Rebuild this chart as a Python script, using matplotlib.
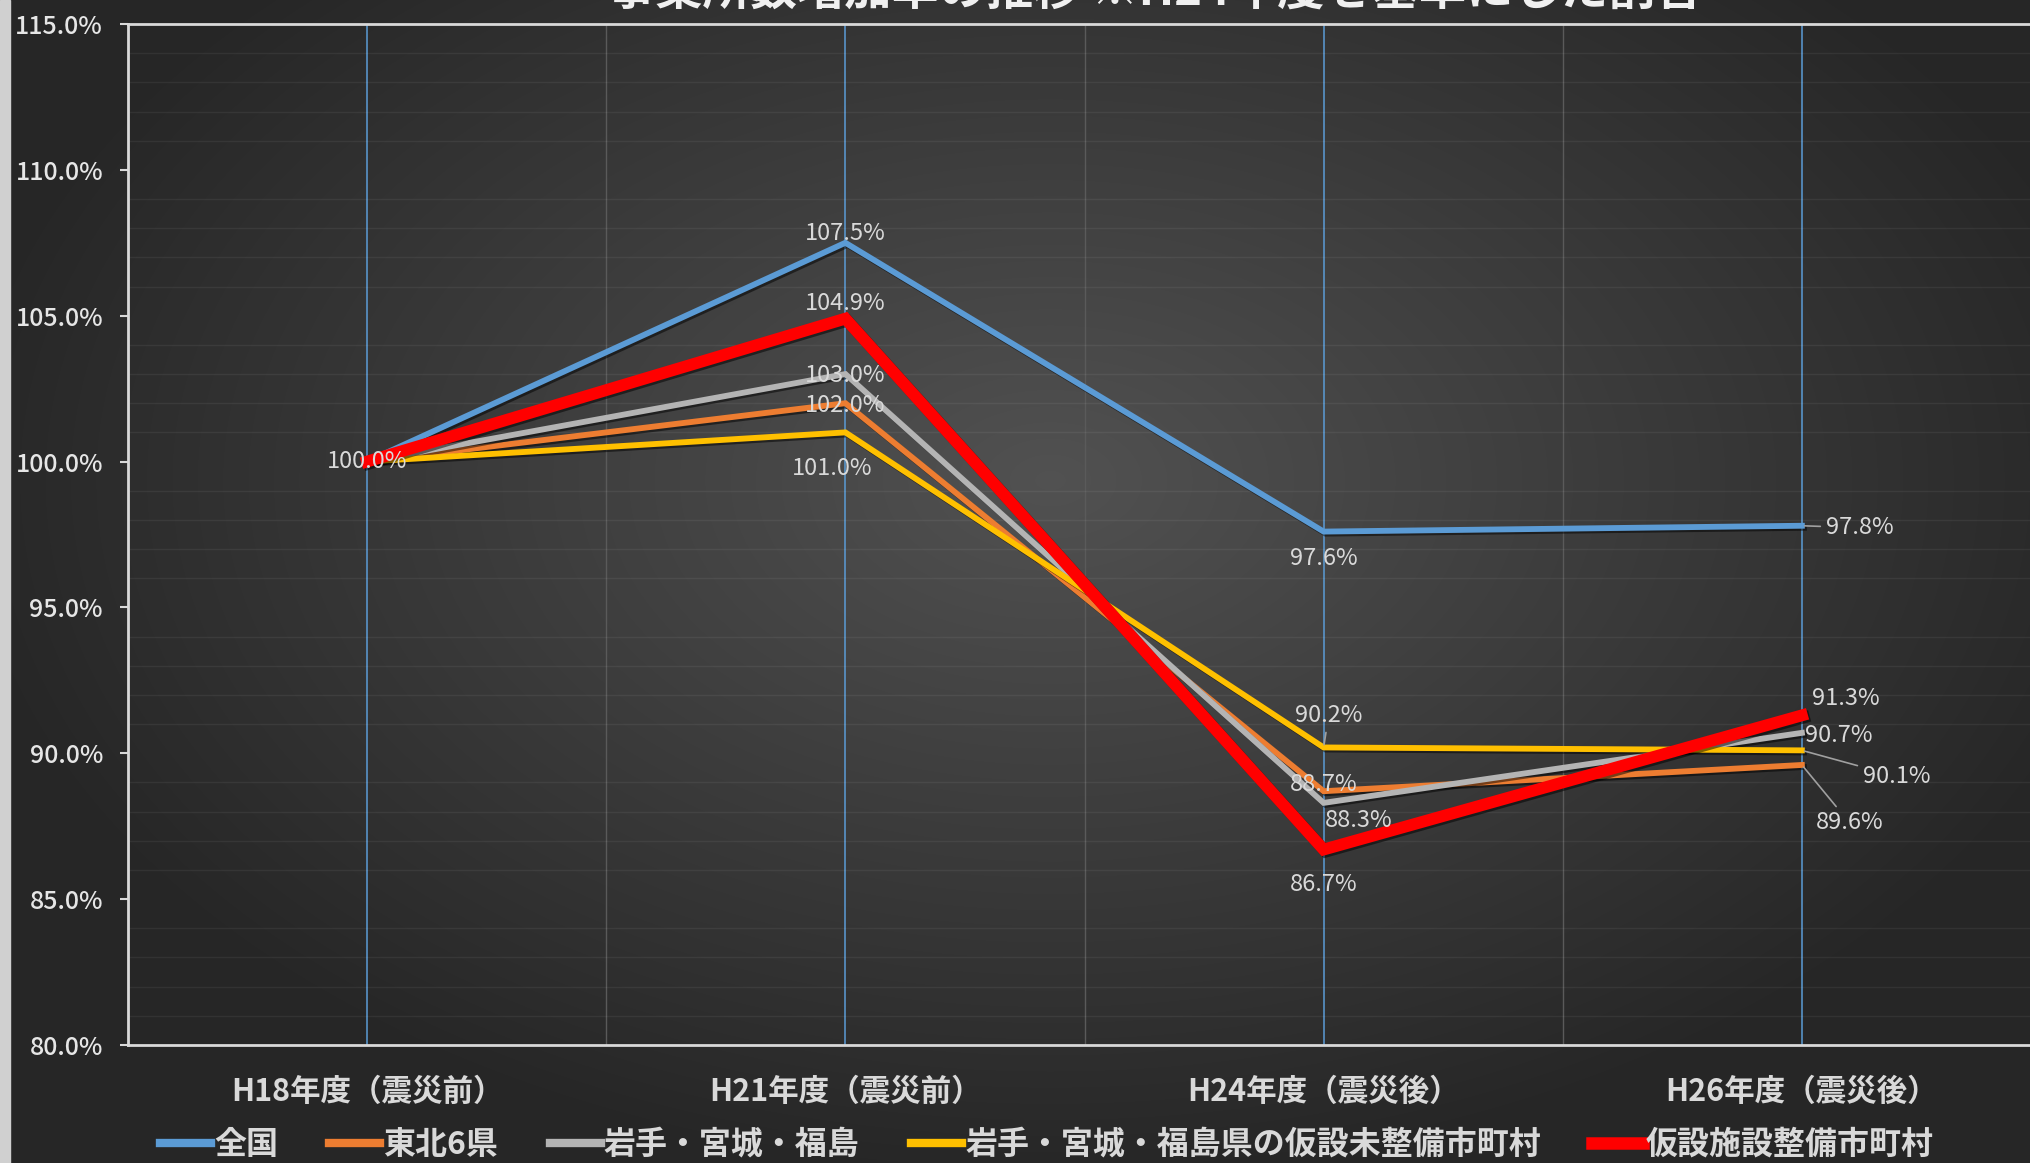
import numpy as np
import matplotlib
matplotlib.use("Agg")
import matplotlib.pyplot as plt
import matplotlib.patheffects as pe
from matplotlib.ticker import MultipleLocator, FuncFormatter

plt.rcParams['font.family'] = ['Noto Sans CJK JP', 'DejaVu Sans']

# 年度ごとの事業所数増加率 (%)
categories = ["H18年度（震災前）", "H21年度（震災前）", "H24年度（震災後）", "H26年度（震災後）"]
zenkoku = [100.0, 107.5, 97.6, 97.8]
tohoku6 = [100.0, 102.0, 88.7, 89.6]
iwate_miyagi_fukushima = [100.0, 103.0, 88.3, 90.7]
kasetsu_miseibi = [100.0, 101.0, 90.2, 90.1]
kasetsu_seibi = [100.0, 104.9, 86.7, 91.3]

series_names = ["全国", "東北6県", "岩手・宮城・福島",
                "岩手・宮城・福島県の仮設未整備市町村", "仮設施設整備市町村"]
series_values = [zenkoku, tohoku6, iwate_miyagi_fukushima, kasetsu_miseibi, kasetsu_seibi]
colors = ["#5b9bd5", "#ed7d31", "#b4b4b4", "#ffc000", "#ff0000"]
widths = [4.2, 4.2, 4.2, 4.2, 8.5]

W, H = 2031, 1163
fig = plt.figure(figsize=(W / 100, H / 100), dpi=100)

# dark radial background
bg = fig.add_axes([0, 0, 1, 1], zorder=-10)
yy, xx = np.mgrid[0:H, 0:W]
r = np.sqrt(((xx - 1050) / 1100.0) ** 2 + ((yy - 480) / 700.0) ** 2)
shade = np.clip(0.32 - 0.17 * r, 0.15, 0.32)
bg.imshow(np.dstack([shade] * 3), extent=[0, W, H, 0], aspect='auto')
bg.add_patch(plt.Rectangle((0, 0), 10, H, color="#d0d0d0"))
bg.set_xlim(0, W)
bg.set_ylim(H, 0)
bg.axis('off')

left, right, top, bottom = 128, 2041, 24, 1045
ax = fig.add_axes([left / W, 1 - bottom / H, (right - left) / W, (bottom - top) / H])
ax.patch.set_alpha(0)

x = np.arange(len(categories))
ax.set_xlim(-0.5, len(categories) - 0.5)
ax.set_ylim(80, 115)

# grid
for b in np.arange(-0.5, len(categories), 1.0)[1:]:
    ax.axvline(b, color="#5a5a5a", lw=1.0, zorder=1)
for xi in x:
    ax.axvline(xi, color="#5b9bd5", lw=1.3, alpha=0.85, zorder=1)
ax.yaxis.set_minor_locator(MultipleLocator(1))
ax.grid(which='minor', axis='y', color="#ffffff", alpha=0.06, lw=1)

shadow = [pe.SimpleLineShadow(offset=(1.5, -1.5), shadow_color='black', alpha=0.5), pe.Normal()]
handles = []
for name, vals, c, w in zip(series_names, series_values, colors, widths):
    ax.plot(x, vals, color=c, lw=w, solid_joinstyle='miter', zorder=3, path_effects=shadow)
    handles.append(plt.Line2D([], [], color=c, lw=6 if w < 5 else 9))

# data labels
lab_kw = dict(color="#d9d9d9", fontsize=17, ha='center', va='center', zorder=5)
lead_kw = dict(arrowstyle='-', color="#a0a0a0", lw=1.2)

def label(i, v, dx, dy, lead=False, ha='center'):
    kw = {**lab_kw, 'ha': ha}
    if lead:
        kw['arrowprops'] = lead_kw
    ax.annotate(f"{v:.1f}%", (i, v), xytext=(dx, dy), textcoords='offset pixels', **kw)

label(0, zenkoku[0], 0, 0)
label(1, zenkoku[1], 0, 9)
label(1, kasetsu_seibi[1], 0, 15)
label(1, iwate_miyagi_fukushima[1], 0, -1)
label(1, tohoku6[1], 0, -2)
label(1, kasetsu_miseibi[1], -13, -36)
label(2, zenkoku[2], 0, -27)
label(2, kasetsu_miseibi[2], 5, 32, lead=True)
label(2, tohoku6[2], 0, 7)
label(2, iwate_miyagi_fukushima[2], 35, -18)
label(2, kasetsu_seibi[2], 0, -35)
label(3, zenkoku[3], 24, -2, lead=True, ha='left')
label(3, kasetsu_seibi[3], 10, 17, ha='left')
label(3, iwate_miyagi_fukushima[3], 3, -3, ha='left')
label(3, kasetsu_miseibi[3], 61, -26, lead=True, ha='left')
label(3, tohoku6[3], 14, -58, lead=True, ha='left')

# axes styling
ax.spines['right'].set_visible(False)
for s in ['left', 'top', 'bottom']:
    ax.spines[s].set_color("#d9d9d9")
    ax.spines[s].set_linewidth(2)
ax.yaxis.set_major_locator(MultipleLocator(5))
ax.yaxis.set_major_formatter(FuncFormatter(lambda v, p: f"{v:.1f}%"))
ax.tick_params(axis='y', which='major', length=6, width=1.5, color="#d9d9d9",
               labelcolor="#e6e6e6", labelsize=18, pad=12)
for t in ax.get_yticklabels():
    t.set_fontweight('medium')
ax.tick_params(axis='y', which='minor', length=0)
ax.set_xticks(x)
ax.set_xticklabels(categories, fontsize=22, fontweight='bold', color="#d9d9d9")
ax.tick_params(axis='x', length=0, pad=22)

fig.text(0.569, 1.008, "事業所数増加率の推移 ※H24年度を基準にした割合", fontsize=34,
         fontweight='bold', color="#f0f0f0", ha='center', va='center')

leg = fig.legend(handles, series_names, loc='center', bbox_to_anchor=(0.5155, 0.0155),
                 ncol=5, frameon=False, handlelength=1.6, handletextpad=0.1,
                 columnspacing=1.6, prop={'size': 23, 'weight': 'bold'})
for t in leg.get_texts():
    t.set_color("#d9d9d9")

fig.savefig("out.png", dpi=100, facecolor="#2a2a2a")
